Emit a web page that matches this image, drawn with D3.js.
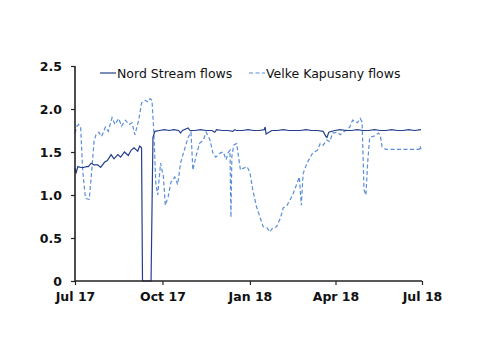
<!DOCTYPE html>
<html>
<head>
<meta charset="utf-8">
<script src="https://cdn.jsdelivr.net/npm/d3@7"></script>
<style>
  body { margin: 0; background: #fff; }
  svg text { font-family: "DejaVu Sans", Verdana, sans-serif; fill: #111; }
</style>
</head>
<body>
<svg id="chart" width="500" height="354"></svg>
<script>

// Nord Stream flows
var nsDates = ['2017-07-01','2017-07-02','2017-07-04','2017-07-07','2017-07-10','2017-07-13','2017-07-15','2017-07-18','2017-07-21','2017-07-25','2017-07-28',
	'2017-08-01','2017-08-04','2017-08-08','2017-08-11','2017-08-15','2017-08-18','2017-08-22','2017-08-26','2017-08-29','2017-09-01','2017-09-05','2017-09-07','2017-09-09',
	'2017-09-10','2017-09-19','2017-09-21','2017-09-23','2017-09-28','2017-10-03','2017-10-08','2017-10-13','2017-10-18','2017-10-20','2017-10-22','2017-10-28','2017-10-30',
	'2017-11-04','2017-11-10','2017-11-16','2017-11-22','2017-11-25','2017-11-27','2017-12-03','2017-12-09','2017-12-14','2017-12-16','2017-12-18','2017-12-24','2017-12-30',
	'2018-01-05','2018-01-11','2018-01-16','2018-01-17','2018-01-18','2018-01-24','2018-01-30','2018-02-05','2018-02-11','2018-02-17','2018-02-23','2018-03-01','2018-03-07',
	'2018-03-13','2018-03-19','2018-03-22','2018-03-23','2018-03-25','2018-03-31','2018-04-06','2018-04-12','2018-04-18','2018-04-24','2018-04-30','2018-05-06','2018-05-12',
	'2018-05-18','2018-05-24','2018-05-30','2018-06-05','2018-06-11','2018-06-17','2018-06-23','2018-06-30'];
var nsValues = [1.31,1.25,1.33,1.32,1.32,1.33,1.33,1.37,1.35,1.35,1.32,
	1.38,1.40,1.47,1.42,1.47,1.44,1.50,1.46,1.52,1.55,1.51,1.57,1.55,
	0,0,1.67,1.74,1.75,1.76,1.75,1.76,1.75,1.72,1.75,1.78,1.75,
	1.75,1.76,1.75,1.75,1.73,1.76,1.75,1.75,1.74,1.76,1.75,1.75,1.76,
	1.75,1.75,1.76,1.79,1.71,1.75,1.75,1.76,1.75,1.75,1.75,1.76,1.75,
	1.75,1.74,1.68,1.67,1.73,1.75,1.76,1.75,1.75,1.76,1.75,1.75,1.76,
	1.75,1.75,1.76,1.75,1.75,1.76,1.75,1.76];

// Velke Kapusany flows
var vkDates = ['2017-07-01','2017-07-03','2017-07-05','2017-07-07','2017-07-09','2017-07-12','2017-07-16','2017-07-18','2017-07-21','2017-07-23','2017-07-26','2017-07-29',
	'2017-08-02','2017-08-05','2017-08-09','2017-08-12','2017-08-16','2017-08-19','2017-08-23','2017-08-27','2017-08-30','2017-09-02','2017-09-06','2017-09-09','2017-09-13',
	'2017-09-16','2017-09-18','2017-09-20','2017-09-22','2017-09-24','2017-09-26','2017-09-29','2017-10-02','2017-10-04','2017-10-07','2017-10-10','2017-10-14','2017-10-17',
	'2017-10-20','2017-10-25','2017-10-28','2017-10-31','2017-11-02','2017-11-05','2017-11-09','2017-11-13','2017-11-16','2017-11-20','2017-11-23','2017-11-26','2017-12-01',
	'2017-12-04','2017-12-07','2017-12-09','2017-12-11','2017-12-12','2017-12-13','2017-12-15','2017-12-18','2017-12-22','2017-12-25','2017-12-29','2018-01-01','2018-01-04',
	'2018-01-08','2018-01-12','2018-01-15','2018-01-19','2018-01-22','2018-01-25','2018-01-29','2018-02-02','2018-02-05','2018-02-09','2018-02-12','2018-02-15','2018-02-19',
	'2018-02-22','2018-02-24','2018-02-26','2018-03-02','2018-03-05','2018-03-08','2018-03-13','2018-03-16','2018-03-19','2018-03-23','2018-03-26','2018-03-29','2018-04-03',
	'2018-04-06','2018-04-09','2018-04-13','2018-04-16','2018-04-19','2018-04-24','2018-04-27','2018-04-29','2018-05-01','2018-05-03','2018-05-05','2018-05-07','2018-05-13',
	'2018-05-16','2018-05-18','2018-05-20','2018-05-24','2018-06-08','2018-06-18','2018-06-28','2018-06-29','2018-06-30'];
var vkValues = [1.72,1.80,1.82,1.78,1.30,0.96,0.95,1.20,1.62,1.70,1.73,1.68,
	1.79,1.74,1.90,1.82,1.89,1.80,1.87,1.82,1.84,1.70,1.87,2.07,2.10,
	2.08,2.12,2.10,1.72,1.14,1.00,1.37,1.21,0.88,0.98,1.15,1.21,1.12,
	1.37,1.56,1.67,1.73,1.29,1.44,1.60,1.64,1.73,1.64,1.49,1.44,1.49,
	1.50,1.41,1.49,1.52,0.74,1.45,1.58,1.60,1.29,1.31,1.33,1.26,1.06,
	0.86,0.73,0.63,0.62,0.57,0.62,0.63,0.73,0.85,0.88,0.94,1.00,1.12,
	1.21,0.88,1.25,1.37,1.43,1.49,1.52,1.60,1.58,1.64,1.62,1.72,1.73,
	1.70,1.73,1.76,1.79,1.87,1.84,1.89,1.85,1.06,1.00,1.40,1.67,1.69,
	1.72,1.70,1.56,1.53,1.53,1.53,1.53,1.57,1.53];

var yTicks = [0, 0.5, 1.0, 1.5, 2.0, 2.5];
var yTickLabels = ['0', '0.5', '1.0', '1.5', '2.0', '2.5'];
var xTicks = ['2017-07-01', '2017-10-01', '2018-01-01', '2018-04-01', '2018-07-01'];
var xTickLabels = ['Jul 17', 'Oct 17', 'Jan 18', 'Apr 18', 'Jul 18'];

var parse = d3.timeParse('%Y-%m-%d');

var margin = {left: 75, right: 78, top: 66, bottom: 73};
var svg = d3.select('#chart');
var w = 500 - margin.left - margin.right;
var h = 354 - margin.top - margin.bottom;

var x = d3.scaleTime()
	.domain([parse(xTicks[0]), parse(xTicks[xTicks.length - 1])])
	.range([0, w]);
var y = d3.scaleLinear().domain([0, 2.5]).range([h, 0]);

var g = svg.append('g').attr('transform', 'translate(' + margin.left + ',' + margin.top + ')');

var ns = nsDates.map(function(d, i){ return {date: parse(d), value: nsValues[i]}; });
var vk = vkDates.map(function(d, i){ return {date: parse(d), value: vkValues[i]}; });

var line = d3.line()
	.x(function(d){ return x(d.date); })
	.y(function(d){ return y(d.value); });

g.append('path')
	.datum(vk)
	.attr('d', line)
	.style('fill', 'none')
	.style('stroke', '#5b8ed8')
	.style('stroke-width', 1.2)
	.style('stroke-dasharray', '4,2.5');

g.append('path')
	.datum(ns)
	.attr('d', line)
	.style('fill', 'none')
	.style('stroke', '#243f8e')
	.style('stroke-width', 1.2);

// axes
var yAxis = d3.axisLeft(y)
	.tickValues(yTicks)
	.tickFormat(function(d, i){ return yTickLabels[i]; })
	.tickSize(4)
	.tickPadding(9);
var xAxis = d3.axisBottom(x)
	.tickValues(xTicks.map(parse))
	.tickFormat(function(d, i){ return xTickLabels[i]; })
	.tickSize(4)
	.tickPadding(7);

var ya = g.append('g').call(yAxis);
var xa = g.append('g').attr('transform', 'translate(0,' + h + ')').call(xAxis);

[ya, xa].forEach(function(a){
	a.select('.domain').attr('stroke', '#222').attr('stroke-width', 1.6);
	a.selectAll('.tick line').attr('stroke', '#222').attr('stroke-width', 1.2);
	a.selectAll('.tick text')
		.style('font-size', '12.5px')
		.style('font-weight', 'bold')
		.style('fill', '#111');
});
ya.select('.domain').attr('d', 'M0,' + h + 'V0');
xa.select('.domain').attr('d', 'M0,0H' + w);

// legend
var legend = svg.append('g');
var items = [
	{label: 'Nord Stream flows', color: '#243f8e', dash: null, x: 100},
	{label: 'Velke Kapusany flows', color: '#5b8ed8', dash: '4,2.5', x: 249}
];
items.forEach(function(it){
	legend.append('line')
		.attr('x1', it.x).attr('x2', it.x + 16)
		.attr('y1', 73).attr('y2', 73)
		.style('stroke', it.color)
		.style('stroke-width', 1.2)
		.style('stroke-dasharray', it.dash);
	legend.append('text')
		.attr('x', it.x + 17)
		.attr('y', 78)
		.style('font-size', '12.5px')
		.text(it.label);
});

</script>
</body>
</html>
